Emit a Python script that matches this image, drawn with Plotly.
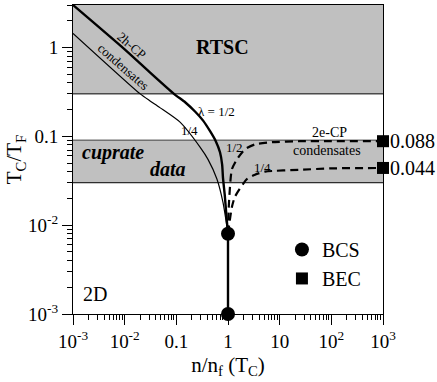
import numpy as np
import plotly.graph_objects as go

# ---- data ----
thick_x = [0.001, 0.01, 0.03, 0.09, 0.15, 0.23, 0.33, 0.45, 0.58, 0.70, 0.77, 0.80, 0.87, 0.94, 1.0]
thick_y = [3.0, 0.95, 0.53, 0.30, 0.24, 0.19, 0.15, 0.114, 0.088, 0.066, 0.048, 0.034, 0.021, 0.012, 0.008]

thin_x = [0.001, 0.02, 0.031, 0.048, 0.118, 0.29, 0.41, 0.61, 0.80, 1.0]
thin_y = [1.44, 0.30, 0.25, 0.21, 0.144, 0.075, 0.055, 0.033, 0.018, 0.008]

dash_half_x = [1.0, 1.045, 1.19, 1.49, 2.13, 3.33, 7.1, 25.0, 100.0, 1000.0]
dash_half_y = [0.008, 0.018, 0.0425, 0.055, 0.0715, 0.081, 0.0857, 0.088, 0.088, 0.088]

dash_quarter_x = [1.0, 1.19, 1.37, 2.33, 3.33, 5.2, 25.0, 100.0, 1000.0]
dash_quarter_y = [0.008, 0.016, 0.021, 0.033, 0.037, 0.040, 0.042, 0.0435, 0.044]

bcs_x = [1.0, 1.0]
bcs_y = [0.008, 0.001]
bec_x = [1000.0, 1000.0]
bec_y = [0.088, 0.044]
bec_labels = ["0.088", "0.044"]

rtsc_band = [0.3, 3.0]
cuprate_band = [0.03, 0.09]

x_tickvals = [1e-3, 1e-2, 1e-1, 1, 10, 100, 1000]
x_ticktext = ["10<sup>-3</sup>", "10<sup>-2</sup>", "0.1", "1", "10", "10<sup>2</sup>", "10<sup>3</sup>"]
y_tickvals = [1e-3, 1e-2, 1e-1, 1]
y_ticktext = ["10<sup>-3</sup>", "10<sup>-2</sup>", "0.1", "1"]

FONT = "Liberation Serif"

x_minor = [m * 10.0 ** e for e in range(-3, 3) for m in range(2, 10)]
y_minor = [m * 10.0 ** e for e in range(-3, 1) for m in range(2, 10) if m * 10.0 ** e <= 3.0]

fig = go.Figure()

fig.add_trace(go.Scatter(x=thick_x, y=thick_y, mode="lines",
                         line=dict(color="black", width=2.4, shape="spline", smoothing=0.6),
                         showlegend=False, hoverinfo="skip"))
fig.add_trace(go.Scatter(x=thin_x, y=thin_y, mode="lines",
                         line=dict(color="black", width=1.2, shape="spline", smoothing=0.6),
                         showlegend=False, hoverinfo="skip"))
fig.add_trace(go.Scatter(x=dash_half_x, y=dash_half_y, mode="lines",
                         line=dict(color="black", width=2.2, dash="8px,5px", shape="spline", smoothing=0.6),
                         showlegend=False, hoverinfo="skip"))
fig.add_trace(go.Scatter(x=dash_quarter_x, y=dash_quarter_y, mode="lines",
                         line=dict(color="black", width=2.2, dash="8px,5px", shape="spline", smoothing=0.6),
                         showlegend=False, hoverinfo="skip"))
fig.add_trace(go.Scatter(x=bcs_x, y=bcs_y, mode="lines",
                         line=dict(color="black", width=2.4), showlegend=False, hoverinfo="skip"))
fig.add_trace(go.Scatter(x=bcs_x, y=bcs_y, mode="markers", name="BCS",
                         marker=dict(symbol="circle", size=14, color="black"), cliponaxis=False))
fig.add_trace(go.Scatter(x=bec_x, y=bec_y, mode="markers", name="BEC",
                         marker=dict(symbol="square", size=12, color="black"), cliponaxis=False))

# bands
fig.add_shape(type="rect", xref="paper", yref="y", x0=0, x1=1, y0=rtsc_band[0], y1=rtsc_band[1],
              fillcolor="#c0c0c0", line=dict(width=0), layer="below")
fig.add_shape(type="rect", xref="paper", yref="y", x0=0, x1=1, y0=cuprate_band[0], y1=cuprate_band[1],
              fillcolor="#c0c0c0", line=dict(width=0), layer="below")
fig.add_shape(type="line", xref="paper", yref="y", x0=0, x1=1, y0=rtsc_band[0], y1=rtsc_band[0],
              line=dict(color="black", width=1), layer="below")
fig.add_shape(type="line", xref="paper", yref="y", x0=0, x1=1, y0=cuprate_band[1], y1=cuprate_band[1],
              line=dict(color="#707070", width=1.5), layer="below")
fig.add_shape(type="line", xref="paper", yref="y", x0=0, x1=1, y0=cuprate_band[0], y1=cuprate_band[0],
              line=dict(color="black", width=1), layer="below")

def ann(text, x, y, size, angle=0, **kw):
    fig.add_annotation(text=text, x=np.log10(x), y=np.log10(y), xref="x", yref="y",
                       showarrow=False, textangle=angle,
                       font=dict(family=FONT, size=size, color="black"), **kw)

ann("<b>RTSC</b>", 0.77, 1.0, 20)
ann("<b><i>cuprate</i></b>", 0.006, 0.066, 20)
ann("<b><i>data</i></b>", 0.069, 0.043, 20)
ann("2h-CP", 0.0136, 1.05, 13, angle=41)
ann("condensates", 0.0093, 0.61, 13, angle=41)
ann("λ = 1/2", 0.59, 0.19, 13)
ann("1/4", 0.18, 0.117, 13)
ann("1/2", 1.31, 0.075, 13)
ann("1/4", 4.55, 0.045, 13)
ann("2e-CP", 94, 0.111, 14)
ann("condensates", 82, 0.070, 14)
ann("2D", 0.0027, 0.00168, 20)
for yv, lab in zip(bec_y, bec_labels):
    ann(lab, bec_x[0], yv, 20, xanchor="left", xshift=5)

axis_common = dict(type="log", showgrid=False, zeroline=False, showline=True, linecolor="black",
                   linewidth=1, mirror=True, ticks="outside", ticklen=10, tickwidth=1, tickcolor="black",
                   tickfont=dict(family=FONT, size=19, color="black"))

fig.update_xaxes(**axis_common, range=[-3, 3], tickmode="array", tickvals=x_tickvals, ticktext=x_ticktext,
                 minor=dict(ticks="outside", ticklen=5, tickwidth=1, tickcolor="black", tickvals=x_minor),
                 title=dict(text="n/n<sub>f</sub> (T<sub>C</sub>)", font=dict(family=FONT, size=21, color="black"),
                            standoff=6))
fig.update_yaxes(**axis_common, range=[-3, np.log10(3.0)], tickmode="array", tickvals=y_tickvals,
                 ticktext=y_ticktext,
                 minor=dict(ticks="outside", ticklen=5, tickwidth=1, tickcolor="black", tickvals=y_minor),
                 title=dict(text="T<sub>C</sub>/T<sub>F</sub>", font=dict(family=FONT, size=21, color="black"),
                            standoff=0))

fig.update_layout(
    width=437, height=382,
    margin=dict(l=73, r=54, t=5, b=68),
    plot_bgcolor="white", paper_bgcolor="white",
    font=dict(family=FONT, color="black"),
    legend=dict(x=0.674, y=0.272, xanchor="left", yanchor="top", bgcolor="rgba(0,0,0,0)",
                font=dict(family=FONT, size=20, color="black"), itemwidth=30, tracegroupgap=0),
)

fig.write_html("out.html", config={"displayModeBar": False},
               post_script="document.body.style.margin='0';")
